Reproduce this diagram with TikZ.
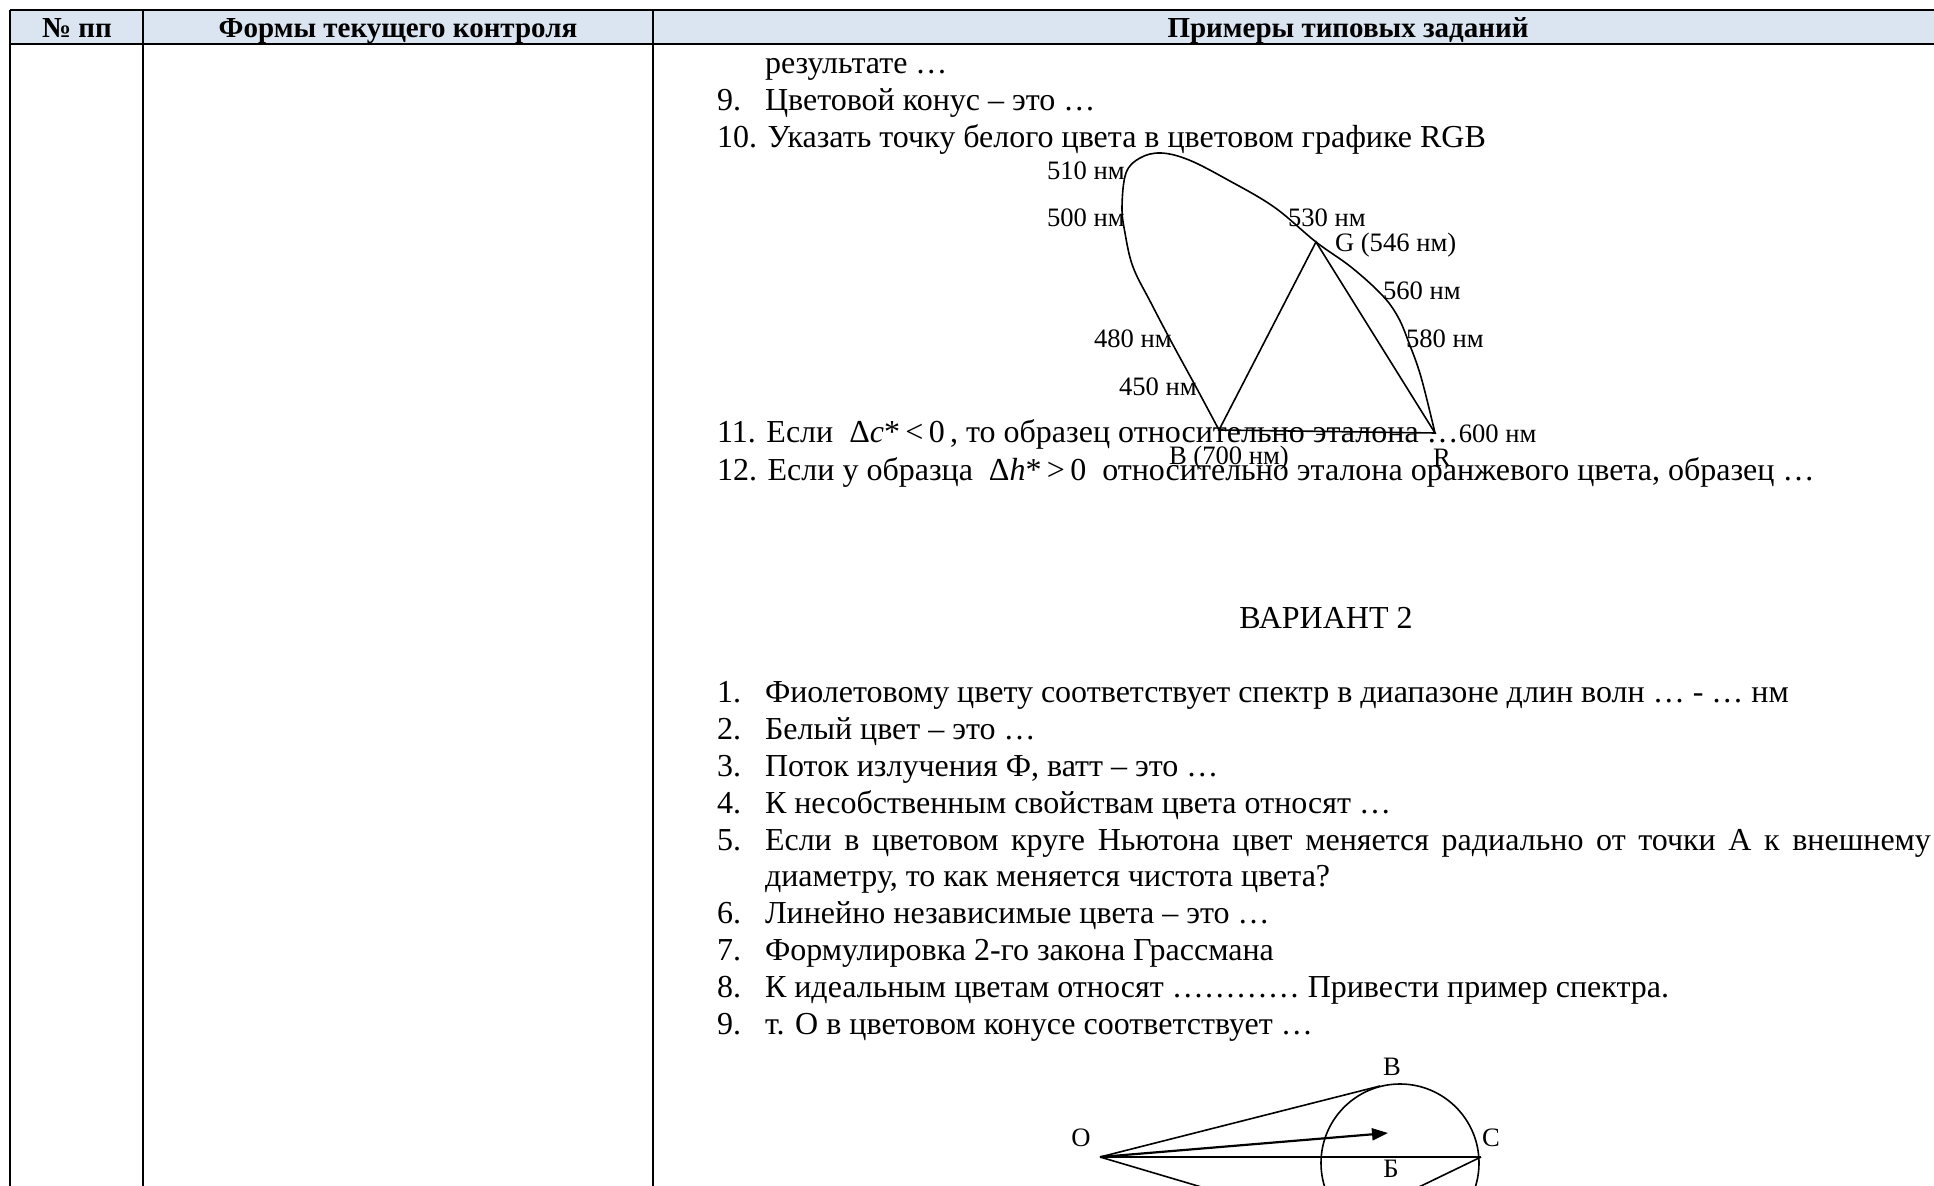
\documentclass[tikz,border=0pt]{standalone}
\usepackage{fontspec}
\setmainfont{Liberation Serif}
\usetikzlibrary{arrows.meta}
\definecolor{hdrfill}{HTML}{DBE5F1}
\begin{document}
\begin{tikzpicture}[x={(0.5pt,0pt)},y={(0pt,-0.5pt)},
  txt/.style={anchor=base west, inner sep=0pt, outer sep=0pt, font=\fontsize{16}{18}\selectfont},
  lbl/.style={anchor=base west, inner sep=0pt, outer sep=0pt, font=\fontsize{13.3}{15}\selectfont},
  hd/.style={anchor=base, inner sep=0pt, outer sep=0pt, font=\fontsize{14.5}{16}\selectfont\bfseries},
  grid/.style={line width=1.25pt},
  thin/.style={line width=0.8pt},
]
\useasboundingbox (0,0) rectangle (1934,1186);
\clip (0,0) rectangle (1934,1186);
% table
\fill[hdrfill] (10,10) rectangle (1934,44);
\draw[grid] (10,10) -- (1934,10);
\draw[grid] (10,44) -- (1934,44);
\draw[grid] (10,10) -- (10,1186);
\draw[grid] (143,10) -- (143,1186);
\draw[grid] (653,10) -- (653,1186);
\node[hd] (h1) at (77,37.5) {№ пп};
\node[hd] (h2) at (398,37.5) {Формы текущего контроля};
\node[hd] (h3) at (1348,37.5) {Примеры типовых заданий};
% variant 1 tail
\node[txt] (t0) at (765,74) {результате …};
\node[txt] (n9) at (717,111) {9.};
\node[txt] (t9) at (765,111) {Цветовой конус – это …};
\node[txt] (n10) at (717,148) {10. Указать точку белого цвета в цветовом графике RGB};
\node[txt] (n11) at (717,443) {11. Если\ \ Δ\textit{c}*\,<\,0\,, то образец относительно эталона …};
\node[lbl] (l600) at (n11.base east) {600 нм};
\node[txt] (n12) at (717,481) {12. Если у образца\ \ Δ\textit{h}*\,>\,0\ \ относительно эталона оранжевого цвета, образец …};
% chromaticity diagram
\coordinate (B) at (1219,430);
\coordinate (G) at (1316,242);
\coordinate (R) at (1435,433);
\draw[thin] plot[smooth, tension=0.6] coordinates {(1219,430) (1196,387) (1172,343) (1151,303) (1133,267) (1125,233) (1122,207) (1126,173) (1140,158) (1161,153) (1189,160) (1228,180) (1274,207) (1316,242) (1351,267) (1382,295) (1398,317) (1409,343) (1421,377) (1435,433)};
\draw[thin] (B) -- (G) -- (R) -- cycle;
\node[lbl] (l510) at (1047,180) {510 нм};
\node[lbl] (l500) at (1047,227) {500 нм};
\node[lbl] (l530) at (1288,227) {530 нм};
\node[lbl] (lG) at (1335,252) {G (546 нм)};
\node[lbl] (l560) at (1383,300) {560 нм};
\node[lbl] (l580) at (1406,348) {580 нм};
\node[lbl] (l480) at (1094,348) {480 нм};
\node[lbl] (l450) at (1119,396) {450 нм};
\node[lbl] (lB) at (1169,465) {B (700 нм)};
\node[lbl] (lR) at (1433,467) {R};
% variant 2
\node[txt, anchor=base] (var) at (1326,629) {ВАРИАНТ 2};
\node[txt] (m1) at (717,703) {1.};
\node[txt] (s1) at (765,703) {Фиолетовому цвету соответствует спектр в диапазоне длин волн … - … нм};
\node[txt] (m2) at (717,739.8) {2.};
\node[txt] (s2) at (765,739.8) {Белый цвет – это …};
\node[txt] (m3) at (717,776.6) {3.};
\node[txt] (s3) at (765,776.6) {Поток излучения Ф, ватт – это …};
\node[txt] (m4) at (717,813.4) {4.};
\node[txt] (s4) at (765,813.4) {К несобственным свойствам цвета относят …};
\node[txt] (m5) at (717,850.2) {5.};
\node[txt] (s5) at (765,850.2) {\makebox[583pt][s]{Если в цветовом круге Ньютона цвет меняется радиально от точки А к внешнему}};
\node[txt] (s5b) at (765,887) {диаметру, то как меняется чистота цвета?};
\node[txt] (m6) at (717,923.8) {6.};
\node[txt] (s6) at (765,923.8) {Линейно независимые цвета – это …};
\node[txt] (m7) at (717,960.6) {7.};
\node[txt] (s7) at (765,960.6) {Формулировка 2-го закона Грассмана};
\node[txt] (m8) at (717,997.4) {8.};
\node[txt] (s8) at (765,997.4) {К идеальным цветам относят ………… Привести пример спектра.};
\node[txt] (m9) at (717,1034.2) {9.};
\node[txt] (s9) at (765,1034.2) {т. О в цветовом конусе соответствует …};
% cone diagram
\coordinate (O) at (1100,1157);
\coordinate (Cc) at (1400,1163);
\coordinate (Bt) at (1380,1086);
\coordinate (Bb) at (1377,1239);
\coordinate (C) at (1481,1157);
\coordinate (Ct) at (1388,1133);
\draw[thin] (Cc) circle [radius=79];
\draw[thin] (O) -- (Bt);
\draw[thin] (O) -- (Bb);
\draw[thin] (O) -- (C);
\draw[thin] (C) -- ++(-120,58);
\draw[line width=1.1pt, -{Triangle[length=8pt,width=6pt]}] (O) -- (Ct);
\node[lbl, anchor=center] (lO) at (1081,1138) {О};
\node[lbl, anchor=center] (lBv) at (1392,1067) {В};
\node[lbl, anchor=center] (lC) at (1491,1138) {С};
\node[lbl, anchor=center] (lBb) at (1391,1169) {Б};
\end{tikzpicture}
\end{document}
